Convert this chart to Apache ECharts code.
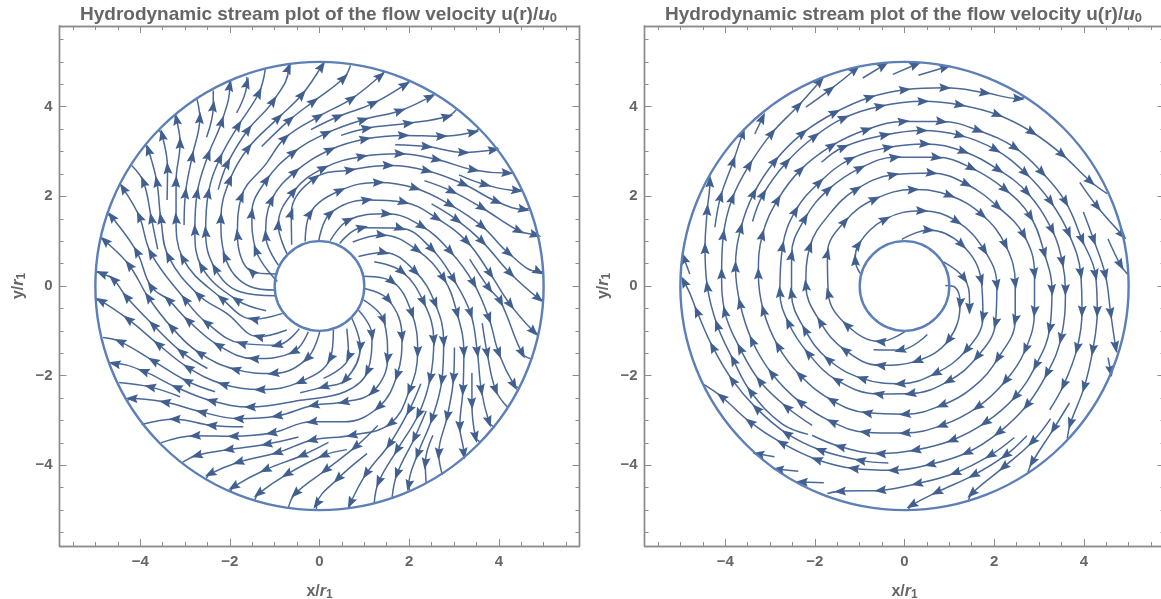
<!DOCTYPE html>
<html><head><meta charset="utf-8">
<style>html,body{margin:0;padding:0;background:#fff;overflow:hidden}#c{width:1161px;height:599px}</style>
<script src="https://cdn.jsdelivr.net/npm/echarts@6/dist/echarts.min.js"></script></head>
<body><div id="c"></div>
<script>
// Streamlines in data units, in flow order. The first point is the line's start.
// A third element 0 marks a point with no arrowhead.
const leftStreams = [
[[-2.50,-1.84],[-3.08,-1.47],[-3.71,-.87],[-4.31,-.24],[-4.60,.15],[-4.86,.28],[-4.98,.31,0]],
[[.01,-1.0],[-.28,-1.62],[-1.03,-1.95],[-1.88,-1.86],[-2.67,-1.50],[-3.30,-.92],[-3.82,-.25],[-4.25,.47],[-4.79,1.01],[-4.88,1.06,0]],
[[-.25,-1.02],[-.58,-1.47],[-1.47,-1.62],[-2.26,-1.32],[-2.93,-.77],[-3.37,-.31],[-3.76,-.01],[-4.08,.77],[-4.64,1.55],[-4.72,1.59,0]],
[[-.45,-.95],[-.95,-1.32],[-1.74,-1.28],[-2.52,-.82],[-3.0,-.30],[-3.76,.73],[-4.02,1.55],[-4.38,2.18],[-4.47,2.28,0]],
[[-3.61,.82],[-3.75,1.51],[-3.93,2.33],[-4.19,2.69,0]],
[[-.73,-.98],[-1.36,-1.13],[-2.07,-.61,0],[-2.70,-.20],[-3.37,.66],[-3.54,1.51],[-3.63,2.33],[-3.82,3.04],[-3.89,3.14,0]],
[[-3.40,1.92],[-3.39,2.63],[-3.51,3.37],[-3.58,3.47,0]],
[[-.82,-.61],[-1.47,-.74],[-2.18,-.28],[-3.05,.62],[-3.20,1.51],[-3.20,2.33],[-3.11,3.19],[-3.19,3.72],[-3.23,3.78,0]],
[[-3.02,1.36],[-2.99,2.07],[-2.84,2.89],[-2.67,3.75],[-2.74,4.19,0]],
[[-2.52,3.32],[-2.37,4.01],[-2.37,4.36,0]],
[[-1.19,-.55],[-1.85,-.31],[-2.63,.43],[-2.78,1.25],[-2.73,2.07],[-2.48,2.93],[-2.18,3.67],[-2.0,4.47],[-2.01,4.57,0]],
[[-1.85,3.86],[-1.62,4.53],[-1.62,4.66,0]],
[[-.98,-.22],[-1.77,-.13,0],[-2.33,.39],[-2.54,1.21],[-2.48,2.07],[-2.22,2.85],[-1.81,3.58],[-1.35,4.31],[-1.21,4.83,0]],
[[-.97,-.09],[-1.55,-.01,0],[-2.11,.66],[-2.20,1.51],[-2.0,2.37],[-1.59,3.08],[-.92,3.75],[-.39,4.27],[.05,4.90],[.09,4.98,0]],
[[-2.26,2.15],[-2.05,2.74],[-1.59,3.49],[-1.03,4.13],[-.69,4.86],[-.69,4.94,0]],
[[-1.29,3.11],[-.66,3.71],[-.13,4.12],[.54,4.64],[.69,4.92,0]],
[[-.97,.27],[-1.51,.32],[-1.83,1.14],[-1.74,2.0],[-1.18,2.74,0],[-.77,3.30],[-.02,3.78],[.72,4.18],[1.36,4.69],[1.43,4.77,0]],
[[-.19,3.49],[.42,3.78],[1.21,4.08],[1.91,4.49],[1.99,4.57,0]],
[[-.94,.10],[-1.42,.80],[-1.51,1.62],[-1.18,2.37],[-.58,2.98],[.16,3.41],[.98,3.71],[1.80,3.91],[2.47,4.22],[2.53,4.27,0]],
[[.48,3.36],[1.06,3.52],[1.99,3.63],[2.85,3.78],[3.05,3.93,0]],
[[-.92,.47],[-1.20,1.12],[-1.07,1.92],[-.54,2.55],[.24,3.04],[1.02,3.28],[1.88,3.36],[2.73,3.34],[3.43,3.43],[3.55,3.50,0]],
[[1.69,3.15],[2.40,3.11],[3.22,2.98],[3.89,3.04],[3.98,3.09,0]],
[[-.72,.71],[-.92,1.36],[-.58,2.11],[.09,2.63],[.95,2.89],[1.80,2.95],[2.62,2.82],[3.44,2.59],[4.19,2.52],[4.28,2.53,0]],
[[3.11,2.48],[3.70,2.26],[4.41,2.13],[4.50,2.15,0]],
[[-.62,.92],[-.63,1.62],[-.10,2.41],[.69,2.59],[1.54,2.69],[2.40,2.57],[3.22,2.27],[3.96,1.88],[4.56,1.71],[4.69,1.74,0]],
[[2.34,2.35],[2.96,2.11],[3.63,1.74],[4.45,1.23],[4.82,1.14],[4.87,1.12,0]],
[[-.32,.99],[-.21,1.62],[.46,2.13],[1.32,2.31],[2.14,2.18],[2.92,1.81],[3.63,1.33],[4.22,.73],[4.89,.32],[4.99,.32,0]],
[[-.02,.99],[.24,1.62],[1.06,1.92],[1.88,1.87],[2.62,1.51],[3.29,.99],[3.81,.27],[4.26,-.42],[4.78,-1.02],[4.87,-1.06,0]],
[[2.50,1.83],[3.07,1.47],[3.63,.99],[4.26,.28],[4.89,-.28],[5.0,-.31,0]],
[[.24,1.01],[.65,1.47],[1.50,1.61],[2.29,1.33],[2.92,.77],[3.44,.06],[3.78,-.72],[4.0,-1.50],[4.34,-2.21],[4.45,-2.27,0]],
[[3.35,.60],[3.78,-.05],[4.04,-.35],[4.52,-1.50],[4.71,-1.62,0]],
[[.45,.95],[.95,1.30],[1.80,1.29],[2.51,.82],[2.99,.15],[3.37,-.61],[3.52,-1.47],[3.61,-2.32],[3.78,-3.03],[3.87,-3.13,0]],
[[3.63,-.83],[3.74,-1.50],[3.93,-2.32],[4.19,-2.70,0]],
[[.74,.98],[1.39,1.14],[2.18,.80],[2.77,.17],[3.07,-.61],[3.22,-1.47],[3.20,-2.32],[3.13,-3.14],[3.22,-3.74],[3.22,-3.79,0]],
[[3.40,-1.94],[3.40,-2.62],[3.48,-3.37],[3.58,-3.48,0]],
[[.87,.66],[1.43,.75],[2.14,.32],[2.58,-.39],[2.77,-1.24],[2.73,-2.10],[2.51,-2.96],[2.19,-3.75],[1.99,-4.45],[2.01,-4.56,0]],
[[3.01,-1.37],[2.99,-2.06],[2.85,-2.91],[2.66,-3.74],[2.74,-4.21,0]],
[[1.22,.54],[1.84,.32],[2.32,-.35],[2.55,-1.21],[2.47,-2.06],[2.21,-2.86],[1.73,-3.66],[1.32,-4.37],[1.22,-4.84,0]],
[[2.26,-2.18],[2.0,-2.77],[1.56,-3.53],[1.04,-4.19],[.69,-4.84],[.67,-4.95,0]],
[[2.38,-2.79],[2.12,-3.39],[1.73,-4.19],[1.62,-4.72,0]],
[[2.53,-3.33],[2.36,-3.96],[2.38,-4.40,0]],
[[.98,.22],[1.62,.10],[2.06,-.61],[2.19,-1.47],[2.01,-2.32],[1.58,-3.07],[.72,-3.33],[-.17,-3.44],[-.95,-3.72],[-1.81,-3.93],[-2.44,-4.19],[-2.53,-4.30,0]],
[[.98,-.05],[1.54,-.31],[1.84,-1.13],[1.73,-1.99],[1.32,-2.70],[.54,-3.03,0],[-.17,-3.03],[-1.07,-3.28],[-1.92,-3.35],[-2.78,-3.34],[-3.54,-3.50,0]],
[[.98,-.31],[1.43,-.76],[1.52,-1.62],[1.19,-2.36],[.54,-2.59],[-.13,-2.66],[-.95,-2.90],[-1.81,-2.96],[-2.63,-2.81],[-3.45,-2.59],[-4.19,-2.51],[-4.27,-2.55,0]],
[[.87,-.54],[1.17,-1.09],[1.07,-1.91],[.57,-2.36,0],[-.43,-2.55,0],[-1.55,-2.70],[-2.41,-2.56],[-3.19,-2.26],[-3.93,-1.90],[-4.57,-1.73],[-4.64,-1.74,0]],
[[.72,-.72],[.91,-1.36],[.57,-2.10],[.09,-2.25],[-.43,-2.38,0]],
[[.31,-.98],[.24,-1.62],[-.43,-2.14],[-1.33,-2.31],[-2.15,-2.19],[-2.93,-1.82],[-3.60,-1.30],[-4.27,-.74],[-4.88,-.33],[-4.98,-.31,0]],
[[-2.33,-2.36],[-2.96,-2.12],[-3.71,-1.67],[-4.45,-1.24],[-4.83,-1.15,0]],
[[-3.11,-2.47],[-3.78,-2.25],[-4.47,-2.15,0]],
[[-1.70,-3.14],[-2.41,-3.11],[-3.23,-2.97],[-3.97,-3.09,0]],
[[-.47,-3.37],[-1.18,-3.53],[-2.03,-3.65],[-2.74,-3.78],[-3.05,-3.93,0]],
[[1.30,-3.11],[.80,-3.59],[.13,-4.11],[-.54,-4.63],[-.69,-4.93,0]],
[[.61,-3.65],[.09,-3.78],[-.73,-4.20],[-1.36,-4.63],[-1.44,-4.77,0]],
[[.20,-3.49],[-.39,-3.78],[-1.21,-4.10],[-1.92,-4.48],[-1.98,-4.58,0]],
[[.61,-.95],[.65,-1.58],[.09,-2.06,0]],
[[1.06,-3.74],[.41,-4.30],[-.06,-4.86],[-.07,-5.0,0]]
];
const rightStreams = [
[[-.99,.28],[-1.10,.58],[-1.03,.92],[-.43,1.49],[.39,1.68],[1.17,1.44],[1.78,.80],[2.06,.02],[2.03,-.83],[1.62,-1.58],[.98,-2.12],[.13,-2.40],[-.58,-2.41],[-1.51,-2.10],[-2.15,-1.50],[-2.59,-.82],[-2.78,-.13],[-2.72,.88],[-2.43,1.68],[-1.90,2.31],[-1.21,2.83],[-.36,3.09],[.46,3.17],[1.32,3.0],[2.10,2.59],[2.73,2.09],[3.29,1.25],[3.52,.54],[3.59,-.09],[3.49,-1.17],[3.18,-1.95],[2.73,-2.66],[2.10,-3.27],[1.39,-3.72],[.57,-3.98],[-.25,-4.11],[-1.14,-4.07],[-1.96,-3.87],[-2.74,-3.50],[-3.45,-3.03],[-4.08,-2.47],[-4.49,-2.19,0]],
[[-.06,1.04],[.54,1.25],[1.28,.92],[1.71,.13],[1.75,-.69],[1.38,-1.43],[.69,-1.95],[-.10,-2.18],[-.95,-2.06],[-1.70,-1.64],[-2.22,-.98],[-2.52,-.16],[-2.52,.69],[-2.22,1.51],[-1.70,2.15],[-.99,2.63],[-.21,2.87],[.72,2.87],[1.50,2.63],[2.25,2.15],[2.81,1.55],[3.12,.73],[3.29,-.09],[3.24,-.95],[2.93,-1.77],[2.47,-2.47],[1.80,-3.05],[1.06,-3.44],[.24,-3.66],[-.54,-3.74],[-1.44,-3.58],[-2.06,-3.33,0]],
[[.91,.01],[1.13,-.03,0],[1.24,-.39],[.98,-1.21],[.28,-1.67],[-.54,-1.77],[-1.33,-1.43],[-1.88,-.80],[-2.20,.02],[-2.11,.88],[-1.66,1.62,0],[-1.07,2.16],[-.25,2.48],[.61,2.52],[1.39,2.27],[2.08,1.77],[2.66,1.14],[2.90,.28],[2.90,-.57],[2.70,-1.41],[2.25,-2.12],[1.63,-2.70],[.83,-3.11],[.01,-3.28],[-.88,-3.26],[-1.62,-3.03],[-2.33,-2.59],[-2.96,-1.95],[-3.40,-1.22],[-3.67,-.39],[-3.77,.43],[-3.65,1.29],[-3.36,2.07],[-2.89,2.79],[-2.27,3.41],[-1.55,3.87],[-.77,4.21],[.01,4.38],[.91,4.42],[1.80,4.31],[2.55,4.18],[2.70,4.22,0]],
[[.87,.54],[1.33,.17],[1.45,-.31,0],[1.45,-.50],[1.45,-.60,0]],
[[.01,-1.02],[-.54,-1.24],[-1.29,-.87],[-1.70,-.16],[-1.72,.72],[-1.33,1.44],[-.66,1.94],[.20,2.15],[1.01,2.02],[1.73,1.59],[2.25,.92],[2.47,.06],[2.47,-.76],[2.08,-1.62],[1.54,-2.25,0],[.83,-2.66],[.01,-2.86],[-.84,-2.83],[-1.62,-2.55],[-2.33,-1.99],[-2.82,-1.34],[-3.15,-.54],[-3.26,.28],[-3.17,1.14],[-2.83,1.92],[-2.32,2.59],[-1.62,3.13],[-.84,3.49],[-.02,3.67],[.83,3.67],[1.65,3.47],[2.47,3.08],[3.07,2.53],[3.59,1.88],[3.96,1.03],[4.26,.25],[4.30,-.57],[4.20,-1.43],[4.01,-2.25],[3.70,-3.07],[3.63,-3.40,0]],
[[.51,-1.08],[-.10,-1.43],[-.69,-1.42,0]],
[[-1.85,2.76],[-1.36,3.10],[-.43,3.37],[.39,3.47],[1.24,3.36],[2.03,3.04],[2.70,2.52],[3.26,1.88],[3.66,1.18],[3.93,.28],[3.96,-.57],[3.85,-1.39],[3.55,-2.21],[3.24,-2.76,0]],
[[-3.39,1.44],[-3.15,2.05],[-2.63,2.76],[-2.0,3.34],[-1.35,3.75],[-.54,4.01],[.42,4.12],[1.24,4.04],[2.08,3.82],[2.85,3.43],[3.52,2.93],[4.15,2.33],[4.52,2.06,0]],
[[3.91,2.31],[4.30,1.77],[4.86,1.14]],
[[3.99,1.65],[4.22,1.03],[4.48,.25],[4.60,-.61],[4.71,-1.36],[4.74,-1.47,0]],
[[4.54,1.05],[4.82,.47],[4.97,.27,0]],
[[4.54,-1.60],[4.60,-1.90]],
[[-4.23,1.31],[-4.10,2.0],[-3.82,2.78],[-3.61,3.41]],
[[-2.06,-3.11],[-2.63,-2.70],[-3.23,-2.12],[-3.67,-1.39],[-4.01,-.57],[-4.08,.28],[-4.04,1.14],[-3.84,1.96],[-3.46,2.70],[-2.96,3.41],[-2.37,4.02],[-1.88,4.57],[-1.81,4.66,0]],
[[-.36,-3.95],[-.99,-3.89],[-1.88,-3.66],[-2.63,-3.29],[-3.30,-2.73],[-3.84,-2.10],[-4.28,-1.36],[-4.63,-.57],[-4.79,-.16,0],[-4.92,.10],[-4.95,.15,0]],
[[-2.15,-3.31],[-2.74,-3.07,0],[-3.43,-2.36],[-3.82,-1.65],[-4.18,-.87],[-4.40,-.01],[-4.45,.84],[-4.40,1.70],[-4.34,2.33],[-4.38,2.41,0]],
[[-4.79,.27],[-4.92,.62]],
[[-2.90,-3.81],[-3.26,-3.75]],
[[-2.37,-4.13],[-2.82,-4.09]],
[[-1.80,-4.39],[-2.29,-4.37]],
[[-3.34,3.39],[-3.17,3.75]],
[[-2.20,3.99],[-1.66,4.38],[-1.10,4.83],[-1.07,4.88,0]],
[[-.93,4.64],[-.47,4.92]],
[[-.26,4.72],[.25,4.94]],
[[.31,4.70],[.91,4.88]],
[[3.68,-2.61],[3.33,-3.18],[2.85,-3.93],[2.75,-4.16,0]],
[[3.26,-2.96],[2.85,-3.48],[2.21,-4.04],[1.50,-4.63],[1.43,-4.77,0]],
[[2.73,-3.34],[2.25,-3.78],[1.54,-4.22],[.72,-4.60],[.16,-4.89],[.09,-4.97,0]],
[[2.45,-3.38],[1.91,-3.78],[1.13,-4.17],[.28,-4.41],[-.54,-4.56],[-1.44,-4.58],[-1.72,-4.63,0]]
];
const circleRadii = [1, 5];
const majorTicks = [-4, -2, 0, 2, 4];
const minorTicks = [-5.5,-5,-4.5,-3.5,-3,-2.5,-1.5,-1,-.5,.5,1,1.5,2.5,3,3.5,4.5,5,5.5];
const axisExtent = [-5.8, 5.8];
const titleParts = ['Hydrodynamic stream plot of the flow velocity u(r)/', 'u', '0'];
const xName = ['x/', 'r', '1'];
const yName = ['y/', 'r', '1'];

const GREY = '#666666', FRAME = '#8c8c8c', LINE = '#4a6898', HEAD = '#41608f', RING = '#5b7fb6';
const ARROW = 'path://M5,0 L10,13 L5,11 L0,13 Z';
const panels = [{left: 59.5, streams: leftStreams}, {left: 644.5, streams: rightStreams}];
const TOP = 26, SIZE = 520;
const rich = {
  n: {fontFamily:'Liberation Sans', fontWeight:'bold', fontSize:16, color:GREY},
  i: {fontFamily:'Liberation Sans', fontWeight:'bold', fontStyle:'italic', fontSize:16, color:GREY},
  s: {fontFamily:'Liberation Sans', fontWeight:'bold', fontSize:12, color:GREY, padding:[6,0,0,0]}
};
const labelText = v => String(v).replace('-', '\u2212');
const opt = {animation:false, backgroundColor:'#fff', grid:[], xAxis:[], yAxis:[], series:[], title:[]};

function addAxes(grid, values, tickLen, labels, names) {
  const base = {type:'value', gridIndex:grid, min:axisExtent[0], max:axisExtent[1], splitLine:{show:false},
    axisLine:{show:true, onZero:false, lineStyle:{color:FRAME, width:1.4}}};
  const ticks = {show:true, inside:true, length:tickLen, customValues:values, lineStyle:{color:FRAME, width:1}};
  const lab = (on, margin) => on ? {show:true, customValues:values, formatter:labelText, fontFamily:'Liberation Sans', fontWeight:'bold', fontSize:15, color:GREY, margin} : {show:false};
  opt.xAxis.push(Object.assign({}, base, {position:'bottom', axisTick:ticks, axisLabel:lab(labels, 8)},
    names ? {name:`{n|${xName[0]}}{i|${xName[1]}}{s|${xName[2]}}`, nameLocation:'middle', nameGap:37, nameTextStyle:{rich}} : {}));
  opt.xAxis.push(Object.assign({}, base, {position:'top', axisTick:ticks, axisLabel:lab(false)}));
  opt.yAxis.push(Object.assign({}, base, {position:'left', axisTick:ticks, axisLabel:lab(labels, 7)},
    names ? {name:`{n|${yName[0]}}{i|${yName[1]}}{s|${yName[2]}}`, nameLocation:'middle', nameGap:32, nameRotate:90, nameTextStyle:{rich}} : {}));
  opt.yAxis.push(Object.assign({}, base, {position:'right', axisTick:ticks, axisLabel:lab(false)}));
}

panels.forEach((p, k) => {
  const gA = k * 2, gB = k * 2 + 1;
  const gridBox = {left:p.left, top:TOP, width:SIZE, height:SIZE, outerBoundsMode:'none'};
  opt.grid.push(Object.assign({}, gridBox), Object.assign({}, gridBox));
  addAxes(gA, majorTicks, 7, true, true);
  addAxes(gB, minorTicks, 4, false, false);
  const xi = gA * 2, yi = gA * 2;
  opt.title.push({
    text:`{t|${titleParts[0]}}{u|${titleParts[1]}}{b|${titleParts[2]}}`,
    left:p.left + SIZE / 2 - 6, top:0, textAlign:'center',
    textStyle:{rich:{
      t:{fontFamily:'Liberation Sans', fontWeight:'bold', fontSize:19, color:GREY},
      u:{fontFamily:'Liberation Sans', fontWeight:'bold', fontStyle:'italic', fontSize:19, color:GREY},
      b:{fontFamily:'Liberation Sans', fontWeight:'bold', fontSize:13, color:GREY, padding:[7,0,0,0]}
    }}
  });
  p.streams.forEach(pts => {
    const data = pts.map((pt, i) => {
      const a = pts[Math.max(i - 1, 0)], b = pts[Math.min(i + 1, pts.length - 1)];
      const rot = Math.atan2(b[1] - a[1], b[0] - a[0]) * 180 / Math.PI - 90;
      const head = i > 0 && pt[2] !== 0;
      return {value:[pt[0], pt[1]], symbol: head ? ARROW : 'none', symbolSize:[9, 12], symbolRotate:rot};
    });
    opt.series.push({type:'line', xAxisIndex:xi, yAxisIndex:yi, data, smooth:0.4, silent:true, z:3, showSymbol:true, showAllSymbol:true,
      lineStyle:{color:LINE, width:1.5}, itemStyle:{color:HEAD, opacity:1}, emphasis:{disabled:true}});
  });
  opt.series.push({type:'custom', xAxisIndex:xi, yAxisIndex:yi, silent:true, z:4, clip:false,
    data:circleRadii.map(r => [0, 0, r]),
    renderItem:(params, api) => {
      const c = api.coord([api.value(0), api.value(1)]);
      const r = api.size([api.value(2), 0])[0];
      return {type:'circle', shape:{cx:c[0], cy:c[1], r}, style:{fill:'none', stroke:RING, lineWidth:2.4}};
    }});
});
const chart = echarts.init(document.getElementById('c'), null, {renderer:'canvas', width:1161, height:599});
chart.setOption(opt);
</script></body></html>
